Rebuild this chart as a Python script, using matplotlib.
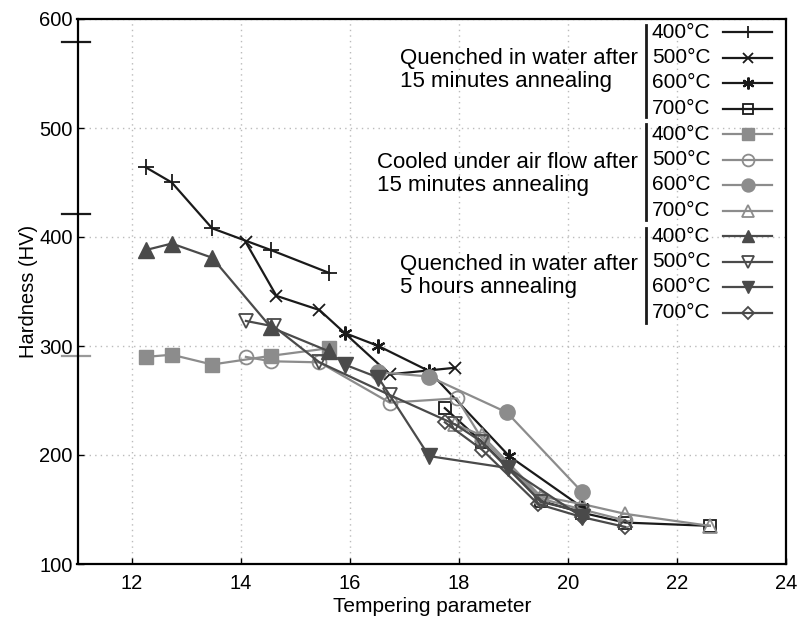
import numpy as np
import matplotlib.pyplot as plt
from matplotlib.lines import Line2D

plt.rcParams['font.family'] = ['Liberation Sans', 'DejaVu Sans']

# --- data (tempering parameter, hardness HV) ---
w15_400_x = [12.25, 12.73, 13.47, 14.55, 15.62]
w15_400_y = [464, 450, 408, 388, 367]
w15_500_x = [14.09, 14.65, 15.44, 16.73, 17.92]
w15_500_y = [395, 346, 333, 274, 280]
w15_600_x = [15.9, 16.52, 17.45, 18.92, 20.26]
w15_600_y = [312, 300, 277, 199, 152]
w15_700_x = [17.74, 18.42, 19.5, 20.26, 21.05, 22.6]
w15_700_y = [243, 212, 158, 147, 138, 135]

a15_400_x = [12.25, 12.73, 13.47, 14.55, 15.62]
a15_400_y = [290, 292, 283, 291, 298]
a15_500_x = [14.09, 14.55, 15.44, 16.73, 17.96, 18.42, 19.5, 20.26, 21.05]
a15_500_y = [290, 286, 285, 248, 252, 215, 160, 150, 140]
a15_600_x = [16.52, 17.45, 18.88, 20.26]
a15_600_y = [276, 272, 239, 166]
a15_700_x = [17.93, 18.42, 19.5, 20.26, 21.05, 22.6]
a15_700_y = [228, 218, 162, 155, 146, 135]

w5_400_x = [12.25, 12.73, 13.47, 14.55, 15.62]
w5_400_y = [388, 394, 381, 317, 295]
w5_500_x = [14.09, 14.6, 15.44, 16.73, 17.93, 18.42, 19.5, 20.26]
w5_500_y = [323, 318, 285, 255, 228, 212, 157, 148]
w5_600_x = [15.9, 16.52, 17.45, 18.9, 20.26]
w5_600_y = [283, 271, 199, 188, 143]
w5_700_x = [17.74, 18.42, 19.45, 20.26, 21.05]
w5_700_y = [230, 205, 155, 143, 134]

temps = ['400°C', '500°C', '600°C', '700°C']
group_titles = ['Quenched in water after\n15 minutes annealing',
                'Cooled under air flow after\n15 minutes annealing',
                'Quenched in water after\n5 hours annealing']

black = '#1a1a1a'
light = '#8c8c8c'
dark = '#4a4a4a'

series = [
    (w15_400_x, w15_400_y, dict(color=black, marker='+', ms=11, mew=1.3, mfc='none')),
    (w15_500_x, w15_500_y, dict(color=black, marker='x', ms=9, mew=1.3, mfc='none')),
    (w15_600_x, w15_600_y, dict(color=black, marker=(6, 2, 0), ms=10, mew=1.6, mfc='none')),
    (w15_700_x, w15_700_y, dict(color=black, marker='s', ms=9, mew=1.3, mfc='none')),
    (a15_400_x, a15_400_y, dict(color=light, marker='s', ms=10, mew=1.0, mfc=light)),
    (a15_500_x, a15_500_y, dict(color=light, marker='o', ms=10, mew=1.3, mfc='none')),
    (a15_600_x, a15_600_y, dict(color=light, marker='o', ms=11, mew=1.0, mfc=light)),
    (a15_700_x, a15_700_y, dict(color=light, marker='^', ms=10, mew=1.3, mfc='none')),
    (w5_400_x, w5_400_y, dict(color=dark, marker='^', ms=11, mew=1.0, mfc=dark)),
    (w5_500_x, w5_500_y, dict(color=dark, marker='v', ms=10, mew=1.3, mfc='none')),
    (w5_600_x, w5_600_y, dict(color=dark, marker='v', ms=11, mew=1.0, mfc=dark)),
    (w5_700_x, w5_700_y, dict(color=dark, marker='D', ms=7, mew=1.3, mfc='none')),
]

W, H = 798, 619
fig = plt.figure(figsize=(W / 100, H / 100), dpi=100)
ax = fig.add_axes([77.5 / W, 1 - 564 / H, (786 - 77.5) / W, (564 - 19) / H])

for xs, ys, st in series:
    ax.plot(xs, ys, lw=1.6, **st)

ax.set_xlim(11, 24)
ax.set_ylim(100, 600)
ax.set_xticks(np.arange(12, 25, 2))
ax.set_yticks(np.arange(100, 601, 100))
ax.grid(True, ls=(0, (1, 3)), color='#bbbbbb', lw=1.0)
ax.tick_params(direction='in', length=4, labelsize=14.5, width=1)
ax.tick_params(axis='x', pad=7)
for sp in ax.spines.values():
    sp.set_linewidth(1.6)
ax.set_xlabel('Tempering parameter', fontsize=15, labelpad=3)
ax.set_ylabel('Hardness (HV)', fontsize=14.5, labelpad=1)

# stray legend marks on the left axis
for yv, c in [(579, black), (421, black), (291, '#999999')]:
    ax.plot([-0.022, 0.018], [(yv - 100) / 500] * 2, transform=ax.transAxes,
            color=c, lw=1.6, clip_on=False)

# hand-drawn legend
def fx(px):
    return px / W

def fy(py):
    return 1 - py / H

rows = [32 + 25.5 * i for i in range(12)]
for i, (xs, ys, st) in enumerate(series):
    yy = rows[i]
    fig.text(fx(652), fy(yy), temps[i % 4], fontsize=15, va='center', ha='left')
    fig.add_artist(Line2D([fx(723), fx(772)], [fy(yy), fy(yy)], lw=1.6,
                          transform=fig.transFigure, color=st['color']))
    s2 = dict(st)
    s2['ms'] = st['ms'] * 0.85
    fig.add_artist(Line2D([fx(747.5)], [fy(yy)], lw=0, transform=fig.transFigure, **s2))

bars = [(25, 117), (124, 220), (228, 323)]
text_y = [70, 174, 276]
for (y0, y1), ty, title in zip(bars, text_y, group_titles):
    fig.add_artist(Line2D([fx(646), fx(646)], [fy(y0), fy(y1)], lw=2,
                          transform=fig.transFigure, color=black))
    fig.text(fx(638), fy(ty), title, fontsize=16, va='center', ha='right',
             multialignment='left', linespacing=1.15)

fig.savefig('out.png', dpi=100)
